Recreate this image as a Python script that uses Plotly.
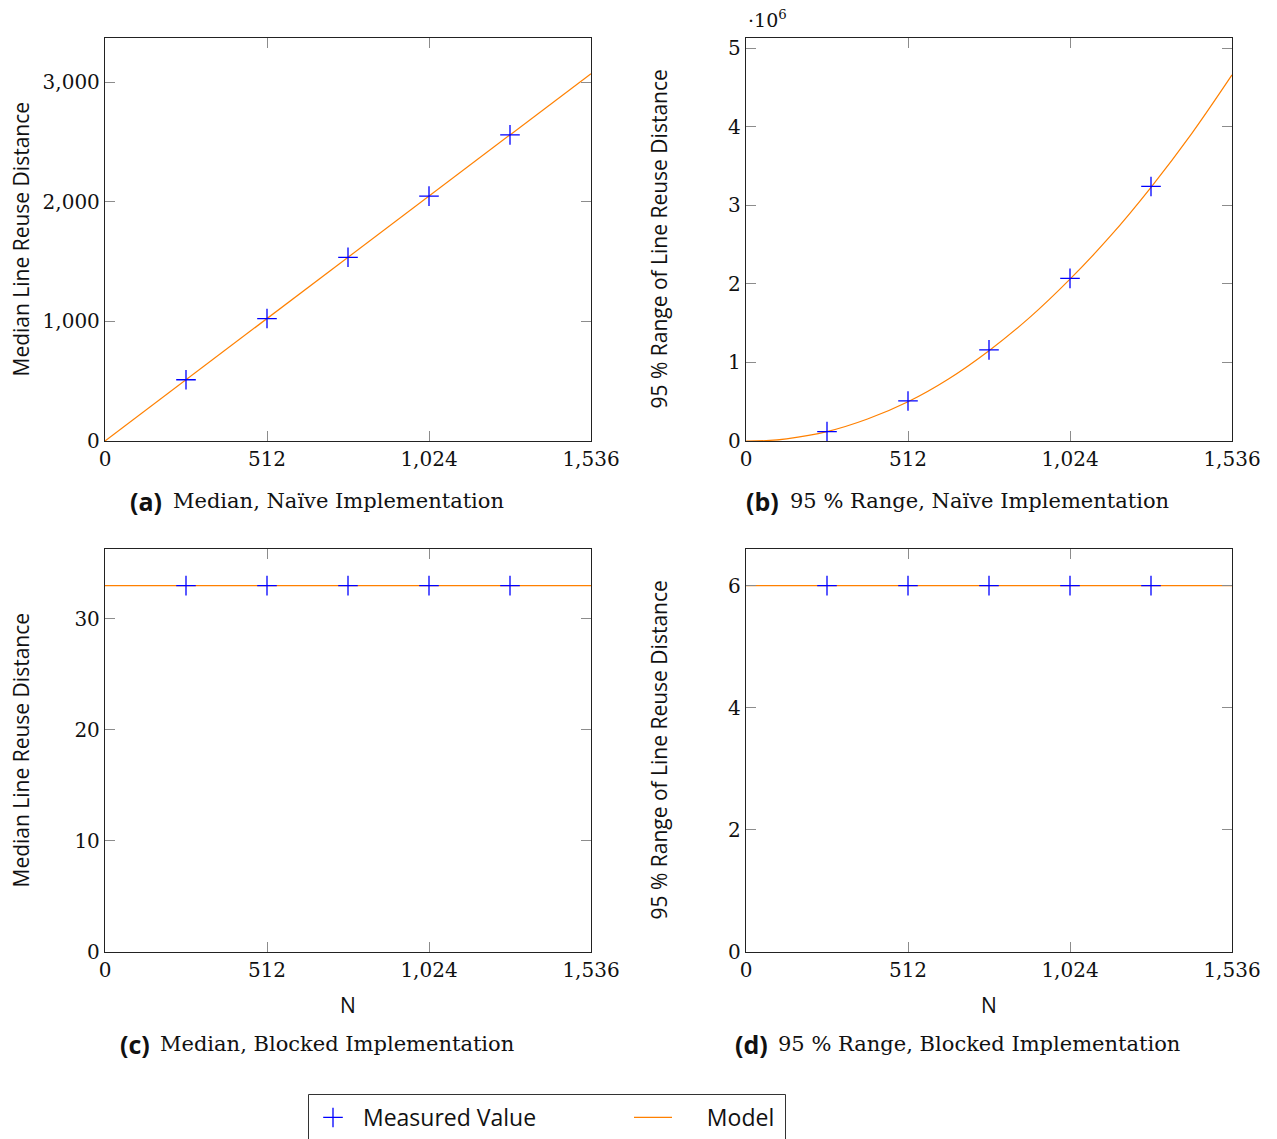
import plotly.graph_objects as go

# ---------------- data ----------------
N_measured = [256, 512, 768, 1024, 1280]
median_naive = [512, 1024, 1536, 2048, 2560]
range_naive = [0.12e6, 0.51e6, 1.16e6, 2.07e6, 3.24e6]
median_blocked = [33, 33, 33, 33, 33]
range_blocked = [6, 6, 6, 6, 6]

N_model_lin = [0, 1536]
model_median_naive = [0, 3072]
N_model_quad = [0, 64, 128, 256, 384, 512, 640, 768, 896, 1024, 1152, 1280, 1408, 1536]
model_range_naive = [0, 0.005e6, 0.028e6, 0.12e6, 0.28e6, 0.50e6, 0.79e6, 1.15e6,
                     1.57e6, 2.06e6, 2.61e6, 3.23e6, 3.91e6, 4.66e6]
model_median_blocked = [33, 33]
model_range_blocked = [6, 6]

x_tickvals = [0, 512, 1024, 1536]
x_ticktext = ["0", "512", "1,024", "1,536"]
ya_tickvals = [0, 1000, 2000, 3000]
ya_ticktext = ["0", "1,000", "2,000", "3,000"]
yb_tickvals = [0, 1e6, 2e6, 3e6, 4e6, 5e6]
yb_ticktext = ["0", "1", "2", "3", "4", "5"]
yc_tickvals = [0, 10, 20, 30]
yc_ticktext = ["0", "10", "20", "30"]
yd_tickvals = [0, 2, 4, 6]
yd_ticktext = ["0", "2", "4", "6"]

captions = ["(a)", "(b)", "(c)", "(d)"]
caption_texts = ["Median, Naïve Implementation", "95 % Range, Naïve Implementation",
                 "Median, Blocked Implementation", "95 % Range, Blocked Implementation"]
ytitles = ["Median Line Reuse Distance", "95 % Range of Line Reuse Distance",
           "Median Line Reuse Distance", "95 % Range of Line Reuse Distance"]

# ---------------- layout geometry ----------------
W, H = 1277, 1139
SERIF = "DejaVu Serif"
SANS = "Open Sans"
BLUE = "#0000ff"
ORANGE = "#ff8000"
NB = "\u00a0"


def px_x(p):
    return p / W


def px_y(p):
    return 1 - p / H


col_dom = [[px_x(105), px_x(591)], [px_x(746), px_x(1232)]]
row_dom = [[px_y(441), px_y(38)], [px_y(952), px_y(549)]]

fig = go.Figure()

panels = [
    (N_model_lin, model_median_naive, median_naive, "linear"),
    (N_model_quad, model_range_naive, range_naive, "spline"),
    (N_model_lin, model_median_blocked, median_blocked, "linear"),
    (N_model_lin, model_range_blocked, range_blocked, "linear"),
]

for i, (mx, my, meas, shape) in enumerate(panels):
    ax = "" if i == 0 else str(i + 1)
    fig.add_trace(go.Scatter(
        x=mx, y=my, mode="lines", name=NB * 5 + "Model",
        line=dict(color=ORANGE, width=1.2, shape=shape),
        xaxis="x" + ax, yaxis="y" + ax, showlegend=(i == 0), legendrank=2,
        cliponaxis=True))
    fig.add_trace(go.Scatter(
        x=N_measured, y=meas, mode="markers", name=NB + "Measured Value",
        marker=dict(symbol="cross-thin", size=14, color=BLUE,
                    line=dict(color=BLUE, width=1.3)),
        xaxis="x" + ax, yaxis="y" + ax, showlegend=(i == 0), legendrank=1,
        cliponaxis=False))

y_ranges = [[0, 3370], [0, 5.13e6], [0, 36.3], [0, 6.6]]
y_ticks = [(ya_tickvals, ya_ticktext), (yb_tickvals, yb_ticktext),
           (yc_tickvals, yc_ticktext), (yd_tickvals, yd_ticktext)]

axis_common = dict(
    showline=True, linecolor="#222", linewidth=1.3, mirror="ticks",
    ticks="inside", ticklen=10, tickcolor="#8c8c8c", tickwidth=1.3,
    showgrid=False, zeroline=False, automargin=False,
    tickfont=dict(family=SERIF, size=20, color="#111"),
)

for i in range(4):
    r, c = divmod(i, 2)
    ax = "" if i == 0 else str(i + 1)
    fig.layout["xaxis" + ax] = dict(
        domain=col_dom[c], anchor="y" + ax, range=[0, 1536],
        tickvals=x_tickvals, ticktext=x_ticktext, **axis_common)
    fig.layout["yaxis" + ax] = dict(
        domain=row_dom[r], anchor="x" + ax, range=y_ranges[i],
        tickvals=y_ticks[i][0], ticktext=y_ticks[i][1], **axis_common)

annotations = []
title_x = [20, 658, 20, 658]
cap_lab_right = [164, 781, 152, 770]
cap_txt_left = [171, 788, 158, 776]
caption_y = [501, 501, 1044, 1044]
for i in range(4):
    r, c = divmod(i, 2)
    yc = (row_dom[r][0] + row_dom[r][1]) / 2
    annotations.append(dict(
        x=px_x(title_x[i]), y=yc, xref="paper", yref="paper", text=ytitles[i],
        textangle=-90, showarrow=False, xanchor="center", yanchor="middle",
        font=dict(family=SANS, size=21, color="#111")))
    annotations.append(dict(
        x=px_x(cap_lab_right[i]), y=px_y(caption_y[i]), xref="paper", yref="paper",
        text="<b>" + captions[i] + "</b>", showarrow=False,
        xanchor="right", yanchor="middle",
        font=dict(family=SANS, size=25, color="#111")))
    annotations.append(dict(
        x=px_x(cap_txt_left[i]), y=px_y(caption_y[i]), xref="paper", yref="paper",
        text=caption_texts[i], showarrow=False, xanchor="left", yanchor="middle",
        font=dict(family=SERIF, size=21, color="#111")))

for c in range(2):
    annotations.append(dict(
        x=(col_dom[c][0] + col_dom[c][1]) / 2, y=px_y(1005), xref="paper", yref="paper",
        text="N", showarrow=False, xanchor="center", yanchor="middle",
        font=dict(family=SANS, size=21, color="#111")))

annotations.append(dict(
    x=px_x(746), y=px_y(19), xref="paper", yref="paper",
    text="·10<sup>6</sup>", showarrow=False, xanchor="left", yanchor="middle",
    font=dict(family=SERIF, size=19, color="#111")))

shapes = [dict(type="rect", xref="paper", yref="paper",
               x0=px_x(308.5), x1=px_x(785.5), y0=px_y(1150), y1=px_y(1094.5),
               line=dict(color="#333", width=1), fillcolor="rgba(0,0,0,0)")]

fig.update_layout(
    width=W, height=H, margin=dict(l=0, r=0, t=0, b=0, autoexpand=False),
    paper_bgcolor="white", plot_bgcolor="white",
    annotations=annotations, shapes=shapes,
    legend=dict(
        orientation="h", x=px_x(309), y=px_y(1096), xanchor="left", yanchor="top",
        borderwidth=0, bgcolor="rgba(0,0,0,0)",
        font=dict(family=SANS, size=23, color="#111"),
        entrywidth=267, entrywidthmode="pixels", itemwidth=38,
        traceorder="normal"),
)

fig.write_html("out.html")
